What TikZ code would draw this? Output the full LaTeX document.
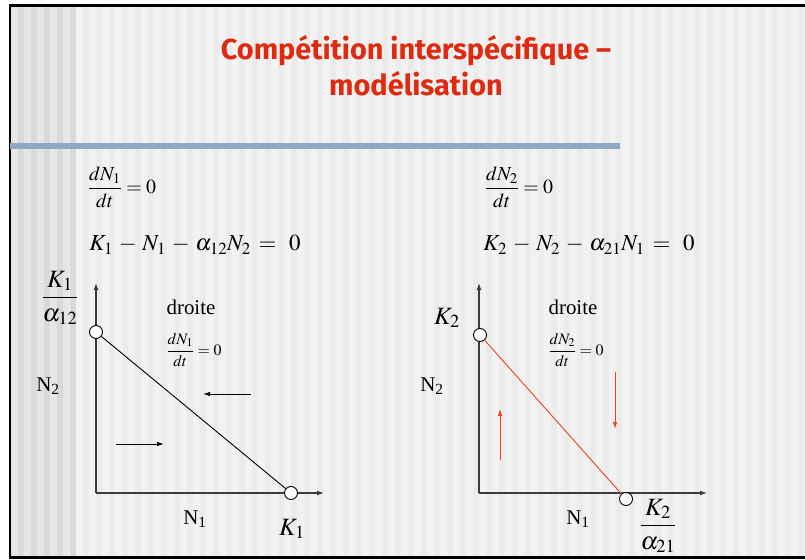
\documentclass[tikz,border=0pt]{standalone}
\usepackage{amsmath}
\usepackage{mathptmx}
\usepackage{fontspec}
\setmainfont{Liberation Serif}
\newfontfamily\titlefont{Fira Sans}
\usetikzlibrary{arrows.meta}
\definecolor{titlered}{RGB}{224,42,16}
\definecolor{stripeA}{RGB}{242,242,242}
\definecolor{stripeB}{RGB}{235,235,235}
\definecolor{bandA}{RGB}{230,230,230}
\definecolor{bandB}{RGB}{217,217,217}
\definecolor{barblue}{RGB}{143,169,196}
\definecolor{linered}{RGB}{240,64,32}
\definecolor{axisgray}{RGB}{60,60,60}
\tikzset{
  axisline/.style={draw=axisgray,line width=1.2bp,-{Latex[length=7bp,width=5bp]}},
  circ/.style={circle,draw=black,fill=white,line width=0.9bp,minimum size=13bp,inner sep=0pt},
  flow/.style={line width=0.9bp,-{Latex[length=7bp,width=4.5bp]}},
  lbl/.style={font=\fontsize{21}{24}\selectfont,inner sep=0pt},
  smallfrac/.style={font=\fontsize{16}{19}\selectfont,inner sep=0pt},
  topfrac/.style={font=\fontsize{20}{23}\selectfont,inner sep=0pt},
  bigeq/.style={font=\fontsize{23}{27}\selectfont,inner sep=0pt},
  kfrac/.style={font=\fontsize{25}{28}\selectfont,inner sep=0pt},
}
\begin{document}
\begin{tikzpicture}[x=1bp,y=-1bp]
\useasboundingbox (0,0) rectangle (805,560);
% background
\fill[white] (0,0) rectangle (805,560);
\fill[stripeA] (10,5) rectangle (805,558);
\foreach \i in {0,...,61} {
  \fill[stripeB] ({11+13*\i+6.5},5) rectangle ({11+13*\i+13},558);
}
\fill[bandA] (10,5) rectangle (69,558);
\foreach \i in {0,...,4} {
  \fill[bandB] ({17.5+13*\i},5) rectangle ({24+13*\i},558);
}
% frame
\draw[line width=2.5bp] (805,5.5) -- (10,5.5) -- (10,557.5) -- (805,557.5);
% blue bar
\fill[barblue] (10,143) rectangle (620,149);
% title
\node[font=\titlefont\bfseries\fontsize{29}{36}\selectfont,text=titlered,align=center] (title) at (416,66) {Compétition interspécifique –\\modélisation};

% equations
\node[topfrac] (eq1a) at (122,187) {$\dfrac{dN_1}{dt}=0$};
\node[bigeq] (eq1b) at (195,245) {$K_1 \,-\, N_1 \,-\, \alpha_{12}N_2 \,=\;\, 0$};
\node[topfrac] (eq2a) at (519,187) {$\dfrac{dN_2}{dt}=0$};
\node[bigeq] (eq2b) at (589,245) {$K_2 \,-\, N_2 \,-\, \alpha_{21}N_1 \,=\;\, 0$};

% ---- left graph
\coordinate (O1) at (96,493);
\coordinate (Y1) at (96,283);
\coordinate (X1) at (324,493);
\draw[axisline] (O1) -- (Y1);
\draw[axisline] (O1) -- (X1);
\node[circ] (c1a) at (96,332) {};
\node[circ] (c1b) at (291,493) {};
\draw[line width=0.9bp] (c1a) -- (c1b);
\node[kfrac] (k1a) at (60,298) {$\dfrac{K_1}{\alpha_{12}}$};
\node[lbl] (n2a) at (48,386) {N\textsubscript{2}};
\node[lbl] (dr1) at (191,307) {droite};
\node[smallfrac] (f1) at (194,350) {$\dfrac{dN_1}{dt}=0$};
\coordinate (a1s) at (251,394);
\coordinate (a1e) at (203,394);
\draw[flow] (a1s) -- (a1e);
\coordinate (a2s) at (116,444);
\coordinate (a2e) at (164,444);
\draw[flow] (a2s) -- (a2e);
\node[lbl] (n1a) at (195,519) {N\textsubscript{1}};
\node[kfrac] (k1b) at (292,529) {$K_1$};

% ---- right graph
\coordinate (O2) at (479,493);
\coordinate (Y2) at (479,283);
\coordinate (X2) at (707,493);
\draw[axisline] (O2) -- (Y2);
\draw[axisline] (O2) -- (X2);
\node[circ] (c2a) at (480,335) {};
\node[circ] (c2b) at (626,499) {};
\draw[linered,line width=0.9bp] (c2a) -- (c2b);
\node[kfrac] (k2a) at (447,318) {$K_2$};
\node[lbl] (n2b) at (432,386) {N\textsubscript{2}};
\node[lbl] (dr2) at (573,307) {droite};
\node[smallfrac] (f2) at (576,350) {$\dfrac{dN_2}{dt}=0$};
\coordinate (b1s) at (500,460);
\coordinate (b1e) at (500,409);
\draw[flow,linered] (b1s) -- (b1e);
\coordinate (b2s) at (615,372);
\coordinate (b2e) at (615,429);
\draw[flow,linered] (b2s) -- (b2e);
\node[lbl] (n1b) at (578,519) {N\textsubscript{1}};
\node[kfrac] (k2b) at (658,526) {$\dfrac{K_2}{\alpha_{21}}$};
\end{tikzpicture}
\end{document}
